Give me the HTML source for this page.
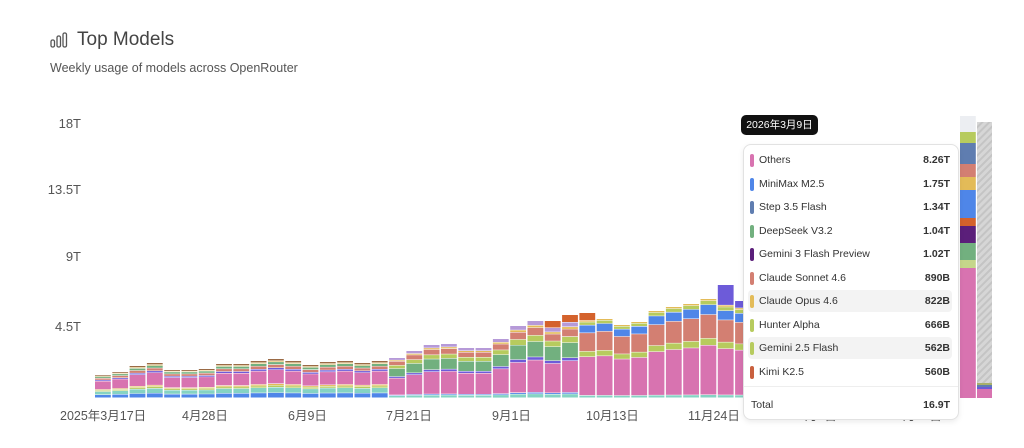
<!DOCTYPE html>
<html><head><meta charset="utf-8">
<style>
html,body{margin:0;padding:0;background:#fff;width:1024px;height:448px;overflow:hidden;font-family:"Liberation Sans","Noto Sans CJK JP",sans-serif;}
.t{position:absolute;white-space:nowrap;}
#tip{position:absolute;left:743px;top:144px;width:214px;height:274px;background:#fff;border:1px solid #e2e2e2;border-radius:8px;box-shadow:0 2px 6px rgba(0,0,0,0.08);}
.row{position:absolute;left:4px;width:204px;height:22px;font-size:10.5px;color:#333;border-radius:4px;}
.row .sw{position:absolute;left:2px;top:5px;width:4px;height:13px;border-radius:2px;}
.row .l{position:absolute;left:11px;top:5px;}
.row .v{position:absolute;right:2px;top:5px;font-weight:bold;color:#333;}
</style></head><body>
<svg width="1024" height="448" style="position:absolute;left:0;top:0">
<defs><pattern id="h" width="5" height="5" patternUnits="userSpaceOnUse" patternTransform="rotate(45)"><rect width="5" height="5" fill="#d6d6d6"/><rect width="2" height="5" fill="#c4c4c4"/></pattern></defs>
<g id="bars"></g>
<rect x="977" y="122" width="15" height="261" fill="url(#h)"/>
<rect x="977" y="383" width="15" height="2" fill="#a8b06a"/>
<rect x="977" y="385" width="15" height="2" fill="#5f7db0"/>
<rect x="977" y="387" width="15" height="2" fill="#6a5ad8"/>
<rect x="977" y="389" width="15" height="9" fill="#d873b0"/>
</svg>
<svg class="t" style="left:50px;top:32px" width="18" height="16"><g fill="none" stroke="#555" stroke-width="1.3"><rect x="1" y="8" width="3.5" height="7" rx="1.5"/><rect x="7" y="4" width="3.5" height="11" rx="1.5"/><rect x="13" y="1" width="3.5" height="14" rx="1.5"/></g></svg>
<div class="t" style="left:77px;top:29px;font-size:19px;color:#444">Top Models</div>
<div class="t" style="left:50px;top:61px;font-size:12.5px;color:#555">Weekly usage of models across OpenRouter</div>
<div class="t" style="right:943px;top:116px;font-size:13px;color:#555">18T</div>
<div class="t" style="right:943px;top:182px;font-size:13px;color:#555">13.5T</div>
<div class="t" style="right:943px;top:249px;font-size:13px;color:#555">9T</div>
<div class="t" style="right:943px;top:319px;font-size:13px;color:#555">4.5T</div>
<div class="t" style="left:60px;top:405px;font-size:12.5px;color:#555">2025年3月17日</div>
<div class="t" style="left:182px;top:405px;font-size:12.5px;color:#555">4月28日</div>
<div class="t" style="left:288px;top:405px;font-size:12.5px;color:#555">6月9日</div>
<div class="t" style="left:386px;top:405px;font-size:12.5px;color:#555">7月21日</div>
<div class="t" style="left:492px;top:405px;font-size:12.5px;color:#555">9月1日</div>
<div class="t" style="left:586px;top:405px;font-size:12.5px;color:#555">10月13日</div>
<div class="t" style="left:688px;top:405px;font-size:12.5px;color:#555">11月24日</div>
<div class="t" style="left:798px;top:405px;font-size:12.5px;color:#555">1月5日</div>
<div class="t" style="left:896px;top:405px;font-size:12.5px;color:#555">2月16日</div>
<div id="tip"></div>
<div class="t" style="left:741px;top:115px;width:77px;height:20px;background:#111;color:#fff;border-radius:5px;font-size:10.5px;line-height:20px;text-align:center">2026年3月9日</div>
<script>
var tops=[375,372,366,363,370,370,369,364,364,361,359,361,365,362,361,363,361,358,351,345,344,348,348,339,326,321,321,315,313,319,325,322,311,307,304,299,285,301,305,300,297,292,288,283,278,270,262,255,248,240,116];
var B=398;
var C={pink:"#d873b0",blue:"#4f86e8",teal:"#85d3c3",green:"#72b07f",salmon:"#d37f72",lime:"#b7cb5e",yellow:"#e3bb58",purple:"#6d5bd9",dpur:"#5b1f7a",orange:"#d4622c",slate:"#5f7db0",brown:"#9a6a45",lav:"#b69ad8"};
var early=[["blue",.13],["teal",.14],["lime",.05],["yellow",.04],["pink",.36],["purple",.05],["salmon",.08],["green",.07],["yellow",.03],["brown",.05]];
var mid=[["teal",.05],["blue",.02],["pink",.42],["purple",.04],["green",.2],["lime",.08],["salmon",.1],["yellow",.03],["lav",.06]];
var late=[["teal",.03],["pink",.5],["lime",.07],["salmon",.24],["blue",.1],["lime",.04],["yellow",.02]];
var g=document.getElementById("bars"),s="";
for(var i=0;i<tops.length;i++){
 var x=95+17.3*i,w=15.8,h=B-tops[i];
 var segs;
 if(i==50){
  var L=[[116,"#eceef2"],[132,C.lime],[143,C.slate],[164,C.salmon],[177,C.yellow],[190,C.blue],[218,C.orange],[226,C.dpur],[243,C.green],[260,"#c5d68a"],[268,C.pink],[398,""]];
  for(var k=0;k<L.length-1;k++)s+='<rect x="'+x.toFixed(1)+'" y="'+L[k][0]+'" width="'+w+'" height="'+(L[k+1][0]-L[k][0])+'" fill="'+L[k][1]+'"/>';
  continue;
 }
 segs=i<17?early:(i<28?mid:late);
 segs=segs.slice();
 if(i>=26&&i<=28)segs=segs.concat([["orange",.1]]);
 if(i==36)segs=segs.concat([["purple",.22]]);
 if(i==37)segs=segs.concat([["purple",.08]]);
 var tot=0;segs.forEach(function(a){tot+=a[1]});
 var y=B;
 segs.forEach(function(a){var hh=h*a[1]/tot;y-=hh;s+='<rect x="'+x.toFixed(1)+'" y="'+y.toFixed(1)+'" width="'+w+'" height="'+(Math.max(hh-0.5,0.3)).toFixed(1)+'" fill="'+C[a[0]]+'"/>';});
}
g.innerHTML=s;
var rows=[["Others","8.26T","#d873b0"],["MiniMax M2.5","1.75T","#4f86e8"],["Step 3.5 Flash","1.34T","#5f7db0"],["DeepSeek V3.2","1.04T","#72b07f"],["Gemini 3 Flash Preview","1.02T","#5b1f7a"],["Claude Sonnet 4.6","890B","#d37f72"],["Claude Opus 4.6","822B","#e3bb58"],["Hunter Alpha","666B","#b7cb5e"],["Gemini 2.5 Flash","562B","#b7cb5e"],["Kimi K2.5","560B","#c9603e"]];
var t=document.getElementById("tip"),h2="";
rows.forEach(function(r,k){var y=4+k*23.5;var bg=(k==6||k==8)?"background:#f3f3f3;":"";
h2+='<div class="row" style="top:'+y+'px;'+bg+'"><div class="sw" style="background:'+r[2]+'"></div><div class="l">'+r[0]+'</div><div class="v">'+r[1]+'</div></div>';});
h2+='<div style="position:absolute;left:0;right:0;top:241px;border-top:1px solid #eee"></div>';
h2+='<div class="row" style="top:249px"><div class="l" style="left:3px">Total</div><div class="v">16.9T</div></div>';
t.innerHTML=h2;
</script>
</body></html>
